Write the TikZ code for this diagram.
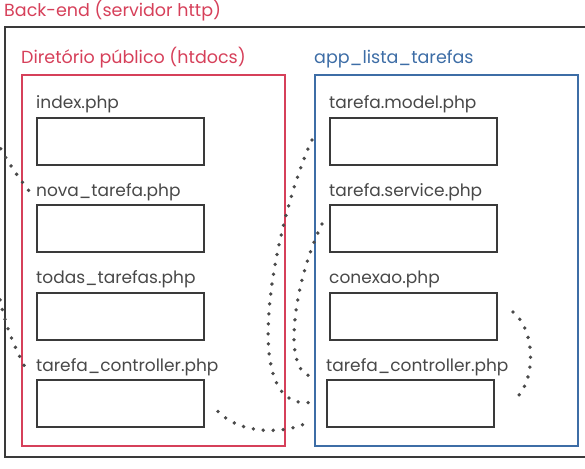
\documentclass[tikz,border=0pt]{standalone}
\usepackage{fontspec}
\setmainfont{Poppins}
\usetikzlibrary{positioning}
\definecolor{pubred}{HTML}{D6405A}
\definecolor{appblue}{HTML}{3D6DA6}
\definecolor{boxgray}{HTML}{3A3A3A}
\definecolor{txtgray}{HTML}{484848}
\definecolor{dotgray}{HTML}{4A4A4A}
\begin{document}
\begin{tikzpicture}[x=1pt, y=-1pt, node distance=87.5pt,
    file/.style={draw=boxgray, line width=2pt, minimum width=167pt, minimum height=47pt, inner sep=0pt},
    fname/.style={text=txtgray, inner sep=0pt, anchor=south west, font=\fontsize{17}{17}\selectfont},
    panel/.style={line width=2pt, minimum width=263pt, minimum height=371pt, inner sep=0pt},
    ptitle/.style={inner sep=0pt, anchor=south west, font=\fontsize{17.5}{17.5}\selectfont},
    link/.style={dotgray, line width=3.8pt, line cap=round, dash pattern=on 0pt off 10pt}]
    \useasboundingbox (0,0) rectangle (585,468);
    \clip (0,0) rectangle (585,468);

    % Containers
    \node (srv) [{draw=boxgray, line width=2pt, minimum width=595pt, minimum height=430pt, inner sep=0pt}] at (302.5,242) {};
    \node (srvl) [{ptitle, text=pubred}] at ([yshift=5pt]srv.north west) {Back-end (servidor http)};
    \node (pub) [{panel, draw=pubred}] at (153.5,260.5) {};
    \node (publ) [{ptitle, text=pubred}] at ([yshift=6pt]pub.north west) {Diretório público (htdocs)};
    \node (app) [{panel, draw=appblue}] at (446.5,260.5) {};
    \node (appl) [{ptitle, text=appblue}] at ([yshift=6pt]app.north west) {app\_lista\_tarefas};

    % Files in htdocs
    \node (idx) [file] at (120.5,141) {};
    \node (nova) [{file, below of=idx}] {};
    \node (todas) [{file, below of=nova}] {};
    \node (tcp) [{file, below of=todas}] {};

    % Files in app_lista_tarefas
    \node (mdl) [file] at (413.5,141) {};
    \node (srvc) [{file, below of=mdl}] {};
    \node (cnx) [{file, below of=srvc}] {};
    \node (tca) [{file, below of=cnx, xshift=-3pt}] {};

    % File names
    \node (idxl) [fname] at ([yshift=3pt]idx.north west) {index.php};
    \node (noval) [fname] at ([yshift=3pt]nova.north west) {nova\_tarefa.php};
    \node (todasl) [fname] at ([yshift=3pt]todas.north west) {todas\_tarefas.php};
    \node (tcpl) [fname] at ([yshift=3pt]tcp.north west) {tarefa\_controller.php};
    \node (mdll) [fname] at ([yshift=3pt]mdl.north west) {tarefa.model.php};
    \node (srvcl) [fname] at ([yshift=3pt]srvc.north west) {tarefa.service.php};
    \node (cnxl) [fname] at ([yshift=3pt]cnx.north west) {conexao.php};
    \node (tcal) [fname] at ([yshift=3pt]tca.north west) {tarefa\_controller.php};

    % Dotted links
    \coordinate (off1) at (-4,140);
    \coordinate (off2) at (-2,290);
    \draw[link] (off1) to[bend right=5] ([xshift=-6pt]noval.west);
    \draw[link] (off2) to[bend right=8] ([xshift=-11pt]tcpl.west);
    \draw[link] ([shift={(13,8)}]tcp.east) .. controls +(23,24) and +(-22,14) .. ([shift={(-15,17)}]tca.west);
    \draw[link] ([shift={(-17,-1)}]mdl.west) .. controls +(-33,70) and +(-75,7) .. ([shift={(-17,-1)}]tca.west);
    \draw[link] ([shift={(-7,-4.5)}]srvc.west) .. controls +(-28,57) and +(-37,3) .. ([shift={(-10,-27)}]tca.west);
    \draw[link] ([shift={(15,-4)}]cnx.east) .. controls +(23,18) and +(25,-17) .. ([shift={(17,-2)}]tca.east);

\end{tikzpicture}
\end{document}
